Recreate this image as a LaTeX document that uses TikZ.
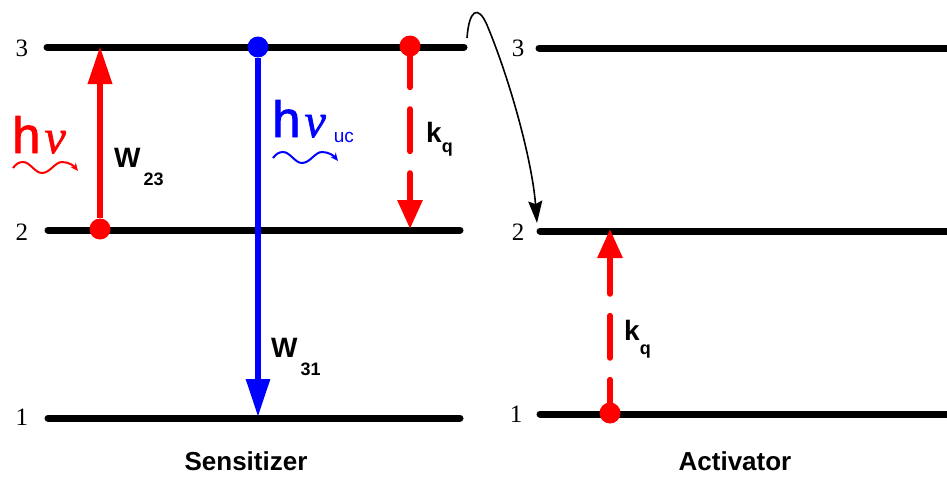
\documentclass[tikz,border=0pt]{standalone}
\usepackage{fontspec}
\setmainfont{Liberation Serif}
\setsansfont{Liberation Sans}
\newfontfamily\hsans[FakeBold=1.6]{Liberation Sans}
\newfontfamily\nuserif[FakeBold=1.2]{Liberation Serif}
\usetikzlibrary{arrows.meta}
\begin{document}
\begin{tikzpicture}[x=1pt,y=-1pt,
  level/.style={line width=7pt,line cap=round},
  lvnum/.style={font=\fontsize{25}{25}\selectfont,inner sep=0pt},
  dot/.style={circle,fill,inner sep=0pt,minimum size=21pt},
  solidarr/.style={line width=6.5pt,-{Triangle[length=38pt,width=23pt]}},
  dasharr/.style={line width=6pt,line cap=round,dash pattern=on 42pt off 22pt,-{Triangle[length=29pt,width=24pt]}},
  wave/.style={line width=2pt,-{Stealth[length=8pt,width=7pt]}},
  lbl/.style={font=\fontsize{28}{28}\selectfont\sffamily\bfseries,inner sep=0pt,anchor=base west},
  title/.style={font=\fontsize{26}{26}\selectfont\sffamily\bfseries,inner sep=0pt,anchor=base},
  hnu/.style={inner sep=0pt,anchor=base west},
  wavy/.pic={\draw[wave] (0,0) .. controls (3,-4) and (6,-6) .. (10,-6) .. controls (17,-6) and (22,5) .. (29,5) .. controls (37,5) and (42,-6) .. (49,-6) .. controls (56,-6) and (61,-2) .. (65,3);}
]
\useasboundingbox (0,0) rectangle (947,479);

% level lines
\coordinate (S3a) at (47,47);  \coordinate (S3b) at (464,47);
\coordinate (S2a) at (48,230); \coordinate (S2b) at (460,230);
\coordinate (S1a) at (48,418); \coordinate (S1b) at (460,418);
\coordinate (A3a) at (539,48); \coordinate (A3b) at (960,48);
\coordinate (A2a) at (540,231); \coordinate (A2b) at (960,231);
\coordinate (A1a) at (540,414); \coordinate (A1b) at (960,414);
\draw[level] (S3a) -- (S3b);
\draw[level] (S2a) -- (S2b);
\draw[level] (S1a) -- (S1b);
\draw[level] (A3a) -- (A3b);
\draw[level] (A2a) -- (A2b);
\draw[level] (A1a) -- (A1b);

% level numbers
\node[lvnum] (ns3) at (22,48) {3};
\node[lvnum] (ns2) at (22,232) {2};
\node[lvnum] (ns1) at (22,417) {1};
\node[lvnum] (na3) at (518,48) {3};
\node[lvnum] (na2) at (518,232) {2};
\node[lvnum] (na1) at (516,414) {1};

% dots
\node[dot,red] (d2) at (100,229) {};
\node[dot,blue] (d3b) at (258,47) {};
\node[dot,red] (d3r) at (410,46) {};
\node[dot,red] (da1) at (610,413) {};

% arrow targets
\coordinate (t23) at (100,46);
\coordinate (t31) at (258,417);
\coordinate (tq) at (410,229);
\coordinate (taq) at (610,229);

\draw[solidarr,red] (d2) -- (t23);
\draw[solidarr,blue,line width=6pt] (d3b) -- (t31);
\draw[dasharr,red,dash phase=11.5pt] (d3r) -- (tq);
\draw[dasharr,red,dash phase=19.5pt] (da1) -- (taq);

% energy transfer curve
\coordinate (cs) at (467,38);
\coordinate (ce) at (537,223);
\draw[line width=1.6pt,-{Stealth[length=22pt,width=14pt,inset=3pt]}] (cs) .. controls (469,10) and (478,4) .. (487,25) .. controls (510,80) and (532,160) .. (ce);

% photons
\node[hnu,red] (hnured) at (12,153) {{\fontsize{51}{51}\hsans\selectfont h}\hspace{4pt}{\fontsize{48}{48}\nuserif\itshape\selectfont ν}};
\pic[red] at (13,168) {wavy};
\node[hnu,blue] (hnublue) at (272,137) {{\fontsize{51}{51}\hsans\selectfont h}\hspace{4pt}{\fontsize{48}{48}\nuserif\itshape\selectfont ν}\hspace{8pt}\raisebox{-5pt}{\fontsize{19}{19}\sffamily\selectfont uc}};
\pic[blue] at (273,158) {wavy};

% rate labels
\node[lbl] (w23) at (114,167) {W\hspace{3pt}\raisebox{-18pt}{\fontsize{18}{18}\selectfont 23}};
\node[lbl] (w31) at (271,357) {W\hspace{3pt}\raisebox{-18pt}{\fontsize{18}{18}\selectfont 31}};
\node[lbl] (kq1) at (426,142) {k\raisebox{-10pt}{\fontsize{18}{18}\selectfont q}};
\node[lbl] (kq2) at (624,340) {k\raisebox{-14pt}{\fontsize{18}{18}\selectfont q}};

% titles
\node[title] (sens) at (246,470) {Sensitizer};
\node[title] (act) at (735,470) {Activator};
\end{tikzpicture}
\end{document}
